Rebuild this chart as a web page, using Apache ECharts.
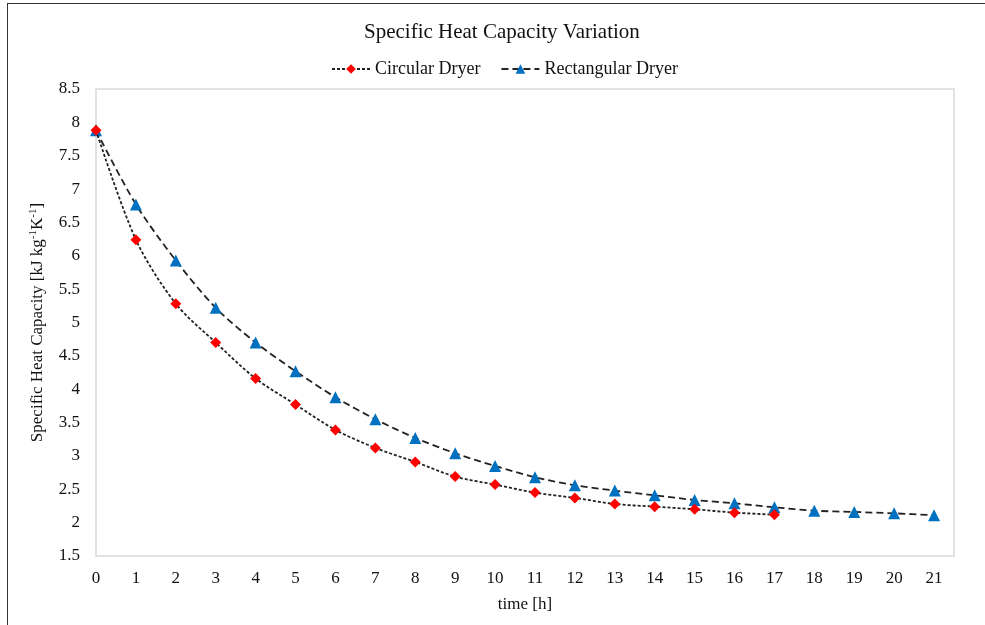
<!DOCTYPE html>
<html>
<head>
<meta charset="utf-8">
<script src="https://cdn.jsdelivr.net/npm/echarts@6/dist/echarts.min.js"></script>
<style>
html,body{margin:0;padding:0;background:#fff;}
#wrap{position:relative;width:985px;height:625px;}
#chart{position:absolute;left:0;top:0;width:985px;height:625px;}
#frame{position:absolute;left:7px;top:3px;width:990px;height:640px;border-top:1.5px solid #333;border-left:1.5px solid #333;pointer-events:none;}
</style>
</head>
<body>
<div id="wrap"><div id="chart"></div><div id="frame"></div></div>
<script>
var hours = [0,1,2,3,4,5,6,7,8,9,10,11,12,13,14,15,16,17,18,19,20,21];
var circular = [7.88,6.24,5.28,4.70,4.16,3.77,3.39,3.12,2.91,2.69,2.57,2.45,2.37,2.28,2.24,2.20,2.15,2.12];
var rectangular = [7.88,6.77,5.93,5.22,4.70,4.27,3.88,3.55,3.27,3.04,2.85,2.68,2.56,2.48,2.41,2.34,2.29,2.23,2.18,2.16,2.14,2.11];
var titleText = 'Specific Heat Capacity Variation';
var seriesNames = ['Circular Dryer','Rectangular Dryer'];
var xName = 'time [h]';
var yName = 'Specific Heat Capacity [kJ kg{sup|-1}K{sup|-1}]';

function pairs(xs, ys){ return ys.map(function(v,i){ return [xs[i], v]; }); }

var FONT = 'Liberation Serif';
var chart = echarts.init(document.getElementById('chart'), null, {renderer:'canvas'});
chart.setOption({
  animation:false,
  backgroundColor:'#fff',
  title:{
    text:titleText, left:359, top:17,
    textStyle:{fontFamily:FONT, fontSize:21, fontWeight:'normal', color:'#111'}
  },
  legend:{
    left:326, top:55, itemWidth:38, itemHeight:12, itemGap:20,
    data:seriesNames,
    textStyle:{fontFamily:FONT, fontSize:18, color:'#111'}
  },
  grid:{left:96, right:31, top:89, bottom:69, show:true, borderColor:'#d9d9d9', borderWidth:1.5},
  xAxis:{
    type:'value', min:0, max:21.5, interval:1,
    name:xName, nameLocation:'middle', nameGap:40,
    nameTextStyle:{fontFamily:FONT, fontSize:17, color:'#111'},
    axisLine:{show:false}, axisTick:{show:false}, splitLine:{show:false},
    axisLabel:{fontFamily:FONT, fontSize:17, color:'#111', margin:14,
      formatter:function(v){ return Number.isInteger(v) ? String(v) : ''; }}
  },
  yAxis:{
    type:'value', min:1.5, max:8.5, interval:0.5,
    name:yName, nameLocation:'middle', nameGap:48,
    nameTextStyle:{fontFamily:FONT, fontSize:17, color:'#111',
      rich:{sup:{fontFamily:FONT, fontSize:11, color:'#111', verticalAlign:'top', lineHeight:20}}},
    axisLine:{show:false}, axisTick:{show:false}, splitLine:{show:false},
    axisLabel:{fontFamily:FONT, fontSize:17, color:'#111', margin:16}
  },
  series:[
    {
      name:seriesNames[0], type:'line', data:pairs(hours, circular), smooth:0.3,
      symbol:'diamond', symbolSize:11,
      itemStyle:{color:'#ff0000'},
      lineStyle:{color:'#222', width:1.8, type:[3,2]},
      z:3
    },
    {
      name:seriesNames[1], type:'line', data:pairs(hours, rectangular), smooth:0.3,
      symbol:'triangle', symbolSize:12,
      itemStyle:{color:'#0070c0'},
      lineStyle:{color:'#222', width:1.8, type:[7,4]},
      z:2
    }
  ]
});
</script>
</body>
</html>
